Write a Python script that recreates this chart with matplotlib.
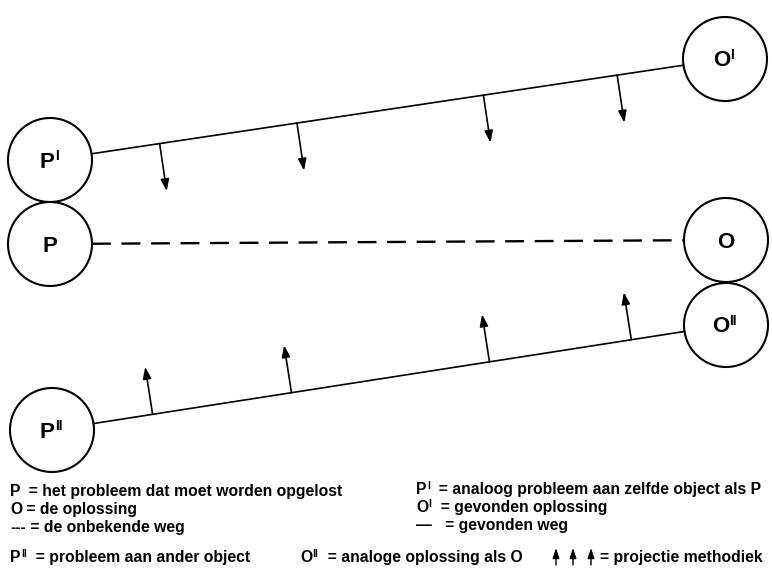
import numpy as np
import matplotlib
matplotlib.use("Agg")
import matplotlib.pyplot as plt
from matplotlib.patches import Circle, FancyArrowPatch

plt.rcParams['font.family'] = ['Liberation Sans', 'DejaVu Sans']

# ---- data ----
node_names = ["P'", "P", "P''", "O'", "O", "O''"]
node_base = ["P", "P", "P", "O", "O", "O"]
node_sup = ["I", "", "II", "I", "", "II"]
node_x = [50, 50, 52, 725, 726, 726]
node_y = [160, 244, 430, 59, 240, 325]
node_r = 42

# paths: (from node, to node, style)
path_from = ["P'", "P", "P''"]
path_to = ["O'", "O", "O''"]
path_style = ["solid", "dashed", "solid"]

# projection arrows: fractions along the path
top_arrow_frac = [0.115, 0.347, 0.662, 0.888]
bottom_arrow_frac = [0.10, 0.335, 0.67, 0.91]
arrow_len = 48

# legend entries: (base symbol, superscript, rest of text)
legend_left_base = ["P", "O", "---"]
legend_left_sup = ["", "", ""]
legend_left_text = ["  = het probleem dat moet worden opgelost",
                    " = de oplossing",
                    " = de onbekende weg"]
legend_right_base = ["P", "O", "—"]
legend_right_sup = ["I", "I", ""]
legend_right_text = ["  = analoog probleem aan zelfde object als P",
                     "  = gevonden oplossing",
                     "   = gevonden weg"]
legend_bottom_base = ["P", "O"]
legend_bottom_sup = ["II", "II"]
legend_bottom_text = ["  = probleem aan ander object",
                      "  = analoge oplossing als O"]
legend_arrow_text = "= projectie methodiek"

W, H = 772, 572
fig = plt.figure(figsize=(W / 100, H / 100), dpi=100)
ax = fig.add_axes([0, 0, 1, 1])
ax.set_xlim(0, W)
ax.set_ylim(H, 0)
ax.axis('off')
fig.canvas.draw()
renderer = fig.canvas.get_renderer()

pos = {n: (x, y) for n, x, y in zip(node_names, node_x, node_y)}

for n, b, s in zip(node_names, node_base, node_sup):
    x, y = pos[n]
    ax.add_patch(Circle((x, y), node_r, fill=False, lw=1.5, ec='black'))
    off = -3 if s == "I" else (-5 if s == "II" else 0)
    ax.text(x + off, y + 2, b, fontsize=16, ha='center', va='center',
            fontweight='bold')
    if s:
        ax.text(x + off + 8, y - 4, s, fontsize=10, ha='left', va='center',
                fontweight='bold')

def edge_points(a, b):
    (x0, y0), (x1, y1) = pos[a], pos[b]
    d = np.array([x1 - x0, y1 - y0], float)
    u = d / np.hypot(*d)
    p0 = np.array([x0, y0]) + u * node_r
    p1 = np.array([x1, y1]) - u * node_r
    return p0, p1, u

for a, b, st in zip(path_from, path_to, path_style):
    p0, p1, u = edge_points(a, b)
    if st == 'dashed':
        ax.plot([p0[0], p1[0]], [p0[1], p1[1]], color='black', lw=1.7,
                dashes=(8, 4.5))
    else:
        ax.plot([p0[0], p1[0]], [p0[1], p1[1]], color='black', lw=1.2)

def proj_arrows(a, b, fracs, sign):
    p0, p1, u = edge_points(a, b)
    nrm = np.array([-u[1], u[0]])
    if nrm[1] * sign < 0:
        nrm = -nrm
    for f in fracs:
        base = p0 + (p1 - p0) * f
        tip = base + nrm * arrow_len
        ax.add_patch(FancyArrowPatch(tuple(base), tuple(tip),
                     arrowstyle='-|>,head_length=7,head_width=2.5',
                     mutation_scale=1, lw=1.2, color='black',
                     shrinkA=0, shrinkB=0))

proj_arrows("P'", "O'", top_arrow_frac, +1)
proj_arrows("P''", "O''", bottom_arrow_frac, -1)

fs = 11.3
sfs = 7.5

def text_width(t, size):
    tt = ax.text(0, 0, t, fontsize=size, fontweight='bold')
    w = tt.get_window_extent(renderer).width
    tt.remove()
    return w

def legend_item(x, y, base, sup, rest):
    yb = y + 5
    ax.text(x, yb, base, fontsize=fs, fontweight='bold', va='baseline')
    cx = x + text_width(base, fs)
    if sup:
        ax.text(cx + 0.5, yb - 5, sup, fontsize=sfs, fontweight='bold',
                va='baseline')
        cx += text_width(sup, sfs) + 1
    ax.text(cx, yb, rest, fontsize=fs, fontweight='bold', va='baseline')

for i in range(3):
    legend_item(10, 491 + 18 * i, legend_left_base[i], legend_left_sup[i],
                legend_left_text[i])
    legend_item(416, 489 + 18 * i, legend_right_base[i], legend_right_sup[i],
                legend_right_text[i])

legend_item(10, 557, legend_bottom_base[0], legend_bottom_sup[0],
            legend_bottom_text[0])
legend_item(300, 557, legend_bottom_base[1], legend_bottom_sup[1],
            legend_bottom_text[1])
ax.text(763, 562, legend_arrow_text, fontsize=fs, fontweight='bold',
        va='baseline', ha='right')
for xa in [556, 573, 591]:
    ax.add_patch(FancyArrowPatch((xa, 565), (xa, 548),
                 arrowstyle='-|>,head_length=6,head_width=2',
                 mutation_scale=1, lw=1.0, color='black',
                 shrinkA=0, shrinkB=0))

fig.savefig("out.png", dpi=100, facecolor='white')
